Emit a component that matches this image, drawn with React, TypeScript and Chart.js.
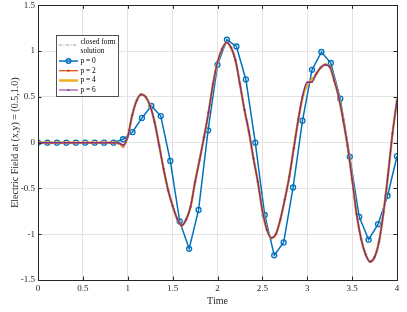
import React, { useEffect, useRef } from 'react';
import { Chart, registerables } from 'chart.js';
Chart.register(...registerables);

const curveTime = [
  0, 0.05, 0.1, 0.15, 0.2, 0.25, 0.3, 0.35, 0.4, 0.45, 0.5, 0.55, 0.6, 0.65, 0.7, 0.75, 0.8, 0.85,
  0.9, 0.95, 1.0, 1.05, 1.1, 1.15, 1.2, 1.25, 1.3, 1.35, 1.4, 1.45, 1.5, 1.55, 1.6, 1.65, 1.7, 1.75,
  1.8, 1.85, 1.9, 1.95, 2.0, 2.05, 2.1, 2.15, 2.2, 2.25, 2.3, 2.35, 2.4, 2.45, 2.5, 2.55, 2.6, 2.65,
  2.7, 2.75, 2.8, 2.85, 2.9, 2.95, 3.0, 3.05, 3.1, 3.15, 3.2, 3.25, 3.3, 3.35, 3.4, 3.45, 3.5, 3.55,
  3.6, 3.65, 3.7, 3.75, 3.8, 3.85, 3.9, 3.95, 4.0,
];

const closedForm = [
  0, 0, 0, 0, 0, 0, 0, 0, 0, 0, 0, 0, 0, 0, 0, 0, 0, 0,
  -0.005, -0.03, 0.07, 0.3, 0.46, 0.525, 0.5, 0.4, 0.22, -0.03, -0.29, -0.52, -0.69, -0.83, -0.905, -0.84, -0.7, -0.43,
  -0.19, 0.06, 0.33, 0.64, 0.88, 1.02, 1.095, 1.04, 0.9, 0.64, 0.36, 0.12, -0.17, -0.43, -0.74, -0.95, -1.04, -1.0,
  -0.84, -0.62, -0.37, -0.06, 0.25, 0.5, 0.64, 0.68, 0.75, 0.82, 0.85, 0.83, 0.68, 0.5, 0.25, -0.04, -0.4, -0.78,
  -1.05, -1.22, -1.3, -1.25, -1.08, -0.76, -0.35, 0.1, 0.46,
];

const p2Values = [
  0, 0, 0, 0, 0, 0, 0, 0, 0, 0, 0, 0, 0, 0, 0, 0, 0, 0,
  -0.01, -0.045, 0.06, 0.3, 0.46, 0.53, 0.5, 0.4, 0.22, -0.03, -0.29, -0.52, -0.69, -0.83, -0.91, -0.84, -0.7, -0.43,
  -0.19, 0.06, 0.33, 0.64, 0.88, 1.02, 1.095, 1.04, 0.9, 0.64, 0.36, 0.12, -0.17, -0.43, -0.74, -0.95, -1.045, -1.0,
  -0.84, -0.62, -0.37, -0.06, 0.26, 0.5, 0.63, 0.69, 0.75, 0.82, 0.855, 0.83, 0.68, 0.5, 0.25, -0.04, -0.4, -0.78,
  -1.05, -1.22, -1.3, -1.25, -1.08, -0.76, -0.35, 0.1, 0.47,
];

const p4Values = closedForm;

const p6Values = [
  0, 0, 0, 0, 0, 0, 0, 0, 0, 0, 0, 0, 0, 0, 0, 0, 0, 0,
  -0.005, -0.025, 0.07, 0.3, 0.46, 0.525, 0.5, 0.4, 0.22, -0.03, -0.29, -0.52, -0.69, -0.83, -0.905, -0.84, -0.7, -0.43,
  -0.19, 0.06, 0.33, 0.64, 0.88, 1.02, 1.095, 1.04, 0.9, 0.64, 0.36, 0.12, -0.17, -0.43, -0.74, -0.95, -1.04, -1.0,
  -0.84, -0.62, -0.37, -0.06, 0.25, 0.52, 0.66, 0.66, 0.75, 0.82, 0.85, 0.83, 0.68, 0.5, 0.25, -0.04, -0.4, -0.78,
  -1.05, -1.22, -1.3, -1.25, -1.08, -0.76, -0.35, 0.1, 0.46,
];

const p0Time = [
  0, 0.105, 0.211, 0.316, 0.421, 0.526, 0.632, 0.737, 0.842, 0.947, 1.053, 1.158, 1.263, 1.368, 1.474,
  1.579, 1.684, 1.789, 1.895, 2.0, 2.105, 2.211, 2.316, 2.421, 2.526, 2.632, 2.737, 2.842, 2.947, 3.053,
  3.158, 3.263, 3.368, 3.474, 3.579, 3.684, 3.789, 3.895, 4.0,
];

const p0Values = [
  0, 0, 0, 0, 0, 0, 0, 0, 0, 0.037, 0.116, 0.27, 0.4, 0.29, -0.2,
  -0.86, -1.16, -0.735, 0.135, 0.85, 1.124, 1.05, 0.69, 0.0, -0.79, -1.23, -1.09, -0.49, 0.24, 0.795,
  0.99, 0.87, 0.48, -0.155, -0.81, -1.06, -0.89, -0.58, -0.148,
];

const xTicks = [0, 0.5, 1, 1.5, 2, 2.5, 3, 3.5, 4];
const yTicks = [-1.5, -1, -0.5, 0, 0.5, 1, 1.5];

const legendLabels = ['closed form|solution', 'p = 0', 'p = 2', 'p = 4', 'p = 6'];

const BLUE = '#0072BD';
const RED = '#D95319';
const YELLOW = '#EDB120';
const PURPLE = '#7E2F8E';
const GREY = '#7f7f7f';
const AXIS = '#262626';
const FONT = "'Liberation Serif', 'DejaVu Serif', serif";

const zip = (xs: number[], ys: number[]) => xs.map((x, i) => ({ x, y: ys[i] }));

const framePlugin = {
  id: 'frame',
  afterDraw(chart: any) {
    const { ctx, chartArea: a, scales } = chart;
    ctx.save();
    ctx.strokeStyle = AXIS;
    ctx.lineWidth = 1;
    ctx.strokeRect(Math.round(a.left) + 0.5, Math.round(a.top) + 0.5, Math.round(a.right - a.left), Math.round(a.bottom - a.top));
    const tl = 3.5;
    ctx.beginPath();
    xTicks.forEach((v) => {
      const px = Math.round(scales.x.getPixelForValue(v)) + 0.5;
      ctx.moveTo(px, a.bottom);
      ctx.lineTo(px, a.bottom - tl);
      ctx.moveTo(px, a.top);
      ctx.lineTo(px, a.top + tl);
    });
    yTicks.forEach((v) => {
      const py = Math.round(scales.y.getPixelForValue(v)) + 0.5;
      ctx.moveTo(a.left, py);
      ctx.lineTo(a.left + tl, py);
      ctx.moveTo(a.right, py);
      ctx.lineTo(a.right - tl, py);
    });
    ctx.stroke();

    // legend
    const bx = 56.5, by = 35.5, bw = 62, bh = 61;
    ctx.fillStyle = '#ffffff';
    ctx.fillRect(bx, by, bw, bh);
    ctx.strokeStyle = AXIS;
    ctx.lineWidth = 0.8;
    ctx.strokeRect(bx, by, bw, bh);
    const lx0 = 59, lx1 = 78, tx = 80.5;
    ctx.font = `7.4px ${FONT}`;
    ctx.textBaseline = 'middle';
    ctx.textAlign = 'left';
    const rows = [45, 61, 70.7, 80.5, 90];
    // closed form
    ctx.strokeStyle = GREY;
    ctx.lineWidth = 0.8;
    ctx.setLineDash([3, 1.5, 1, 1.5]);
    ctx.beginPath();
    ctx.moveTo(lx0, rows[0]);
    ctx.lineTo(lx1, rows[0]);
    ctx.stroke();
    ctx.setLineDash([]);
    const parts = legendLabels[0].split('|');
    ctx.fillStyle = '#000';
    ctx.fillText(parts[0], tx, 42.5);
    ctx.fillText(parts[1], tx, 51);
    // p0
    ctx.strokeStyle = BLUE;
    ctx.lineWidth = 1.5;
    ctx.beginPath();
    ctx.moveTo(lx0, rows[1]);
    ctx.lineTo(lx1, rows[1]);
    ctx.stroke();
    ctx.beginPath();
    ctx.arc((lx0 + lx1) / 2, rows[1], 2.3, 0, Math.PI * 2);
    ctx.stroke();
    ctx.fillText(legendLabels[1], tx, rows[1]);
    // p2
    ctx.strokeStyle = RED;
    ctx.lineWidth = 1.3;
    ctx.beginPath();
    ctx.moveTo(lx0, rows[2]);
    ctx.lineTo(lx1, rows[2]);
    ctx.stroke();
    ctx.fillStyle = RED;
    ctx.beginPath();
    ctx.arc((lx0 + lx1) / 2, rows[2], 1.3, 0, Math.PI * 2);
    ctx.fill();
    ctx.fillStyle = '#000';
    ctx.fillText(legendLabels[2], tx, rows[2]);
    // p4
    ctx.strokeStyle = YELLOW;
    ctx.lineWidth = 2.5;
    ctx.beginPath();
    ctx.moveTo(lx0, rows[3]);
    ctx.lineTo(lx1, rows[3]);
    ctx.stroke();
    ctx.fillText(legendLabels[3], tx, rows[3]);
    // p6
    ctx.strokeStyle = PURPLE;
    ctx.lineWidth = 1;
    ctx.beginPath();
    ctx.moveTo(lx0, rows[4]);
    ctx.lineTo(lx1, rows[4]);
    ctx.stroke();
    ctx.fillStyle = PURPLE;
    ctx.beginPath();
    ctx.arc((lx0 + lx1) / 2, rows[4], 1.1, 0, Math.PI * 2);
    ctx.fill();
    ctx.fillStyle = '#000';
    ctx.fillText(legendLabels[4], tx, rows[4]);
    ctx.restore();
  },
};

export default function App() {
  const ref = useRef<HTMLCanvasElement | null>(null);
  useEffect(() => {
    document.body.style.margin = '0';
    const canvas = ref.current;
    if (!canvas) return;
    const chart = new Chart(canvas, {
      type: 'line',
      data: {
        datasets: [
          {
            label: 'p = 6',
            data: zip(curveTime, p6Values),
            borderColor: PURPLE,
            backgroundColor: PURPLE,
            borderWidth: 1.5,
            pointRadius: 0.9,
            pointBorderWidth: 0,
            cubicInterpolationMode: 'monotone',
            order: 0,
          },
          {
            label: 'p = 4',
            data: zip(curveTime, p4Values),
            borderColor: YELLOW,
            borderWidth: 2.5,
            pointRadius: 0,
            cubicInterpolationMode: 'monotone',
            order: 1,
          },
          {
            label: 'p = 2',
            data: zip(curveTime, p2Values),
            borderColor: RED,
            backgroundColor: 'rgba(237,120,60,0.9)',
            borderWidth: 1.5,
            pointRadius: 1.4,
            pointBorderWidth: 0,
            cubicInterpolationMode: 'monotone',
            order: 2,
          },
          {
            label: 'p = 0',
            data: zip(p0Time, p0Values),
            borderColor: BLUE,
            backgroundColor: 'rgba(0,0,0,0)',
            borderWidth: 1.5,
            pointRadius: 2.5,
            pointBorderWidth: 1.3,
            pointBorderColor: BLUE,
            tension: 0,
            order: 3,
          },
          {
            label: 'closed form solution',
            data: zip(curveTime, closedForm),
            borderColor: GREY,
            borderWidth: 1,
            borderDash: [3, 1.5, 1, 1.5],
            pointRadius: 0,
            cubicInterpolationMode: 'monotone',
            order: 4,
          },
        ],
      },
      options: {
        animation: false,
        responsive: false,
        events: [],
        layout: { padding: { top: 5, right: 10, left: 0, bottom: 0 } },
        plugins: { legend: { display: false }, tooltip: { enabled: false } },
        scales: {
          x: {
            type: 'linear',
            min: 0,
            max: 4,
            afterFit: (s: any) => { s.height = 32; s.paddingLeft = 0; s.paddingRight = 0; },
            afterBuildTicks: (s: any) => { s.ticks = xTicks.map((v) => ({ value: v })); },
            ticks: {
              padding: 3,
              color: AXIS,
              font: { family: FONT, size: 9 },
              maxRotation: 0,
              callback: (v: any) => String(v),
            },
            grid: { color: '#e3e3e3', drawTicks: false, lineWidth: 1 },
            border: { display: true, color: AXIS },
            title: { display: true, text: 'Time', color: AXIS, font: { family: FONT, size: 10 }, padding: { top: 0, bottom: 5 } },
          },
          y: {
            type: 'linear',
            min: -1.5,
            max: 1.5,
            afterFit: (s: any) => { s.width = 38; s.paddingTop = 0; s.paddingBottom = 0; },
            afterBuildTicks: (s: any) => { s.ticks = yTicks.map((v) => ({ value: v })); },
            ticks: {
              padding: 3,
              color: AXIS,
              font: { family: FONT, size: 9 },
              callback: (v: any) => String(v),
            },
            grid: { color: '#e3e3e3', drawTicks: false, lineWidth: 1 },
            border: { display: true, color: AXIS },
            title: { display: true, text: 'Electric Field at (x,y) = (0.5,1.0)', color: AXIS, font: { family: FONT, size: 10 }, padding: { top: 9, bottom: 0 } },
          },
        },
      },
      plugins: [framePlugin],
    } as any);
    return () => chart.destroy();
  }, []);
  return <canvas ref={ref} width={407} height={312} style={{ display: 'block' }} />;
}
